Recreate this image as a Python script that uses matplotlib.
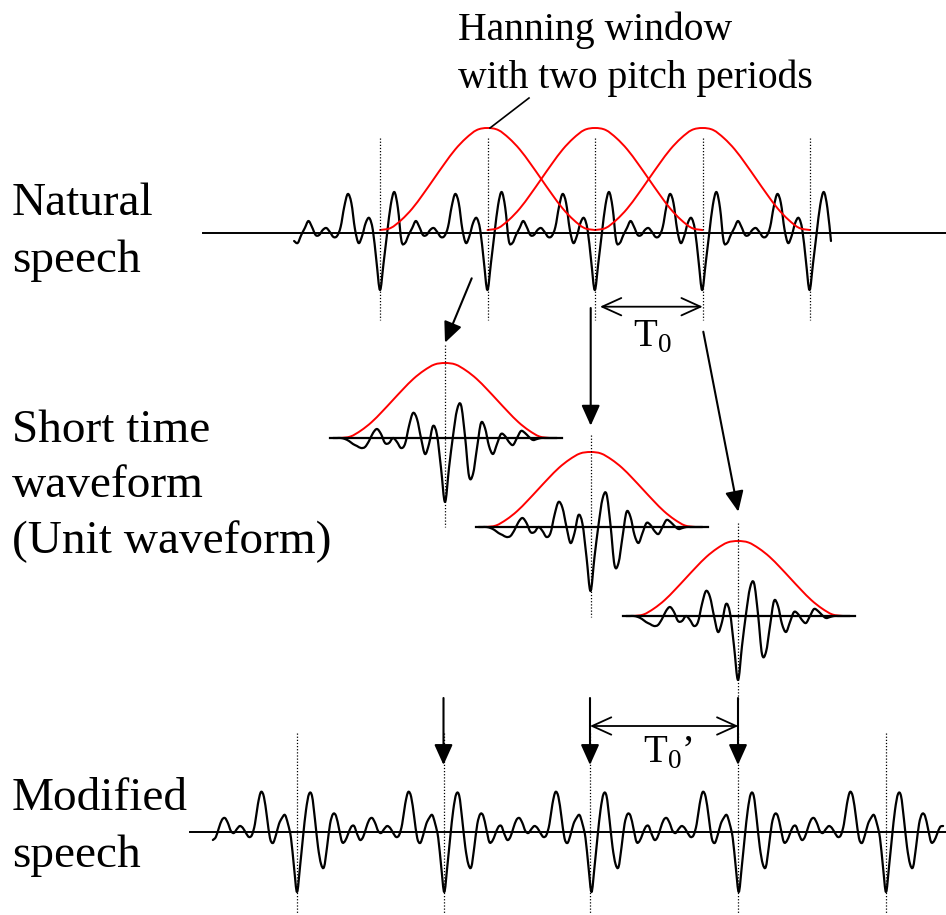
import numpy as np
import matplotlib.pyplot as plt
from matplotlib.path import Path
from matplotlib.patches import PathPatch

plt.rcParams['font.family'] = 'Liberation Serif'
plt.rcParams['mathtext.fontset'] = 'custom'
plt.rcParams['mathtext.rm'] = 'Liberation Serif'

# one pitch period of the natural speech, starting at a pitch mark (up = positive)
natural_period = [-57, -30, 0, 28, 41, 25, -8, -10, -2, 5,
                  12, 6, -2, -2, 3, 5, 1, -4, -3, 6,
                  26, 39, 30, 4, -10, -3, 10, 15, 3, -28]
natural_marks = [380, 487.5, 595, 702.5, 809.5]
natural_span = (293, 832)
natural_base = 233

# one pitch period of the modified speech
modified_period = [-60, -35, -5, 22, 38, 36, 12, -15, -32, -35,
                   -15, 8, 18, 16, 3, -10, -9, -2, 5, 6,
                   -2, -8, -5, 4, 12, 14, 9, 1, -1, 3,
                   6, 4, -1, -5, -3, 8, 28, 40, 35, 15,
                   -6, -11, -3, 8, 14, 17, 8, -6, -35]
modified_marks = [297, 443.5, 590, 738, 886]
modified_span = (210, 946)
modified_base = 832

# windowed unit waveform, centred on its pitch mark
unit_wave = [0, 0, 0, -1, -3, -6, -8, -10, -9, -3,
             5, 9, 4, -5, -5, 0, -4, -10, -6, 12,
             25, 19, 0, -16, -6, 12, 3, -30, -64, -30,
             2, 28, 33, 2, -38, -36, -10, 15, 10, -8,
             -16, -6, 4, 2, -4, -7, 0, 7, 5, 1,
             -2, -1, 0, 0, 0, 0, 0]
unit_step = 4
unit_centers = [445, 590.5, 738]
unit_bases = [438, 527, 616]
unit_dots = [(345, 527), (435, 617), (523, 700)]

# Hanning window shape (21 points over two pitch periods)
hann = [0, 0.02, 0.1, 0.21, 0.35, 0.5, 0.65, 0.79, 0.9, 0.98, 1,
        0.98, 0.9, 0.79, 0.65, 0.5, 0.35, 0.21, 0.1, 0.02, 0]


def periodic(period_vals, marks, span):
    T = (marks[-1] - marks[0]) / (len(marks) - 1)
    n = len(period_vals)
    step = T / n
    i0 = int(np.floor((span[0] - marks[0]) / step))
    i1 = int(np.ceil((span[1] - marks[0]) / step))
    idx = np.arange(i0, i1 + 1)
    x = marks[0] + idx * step
    y = np.array(period_vals)[idx % n]
    keep = (x >= span[0]) & (x <= span[1])
    return x[keep], y[keep]


def smooth_line(ax, x, y, color='k', lw=1.6):
    # draw a curve through the samples (Catmull-Rom as cubic Bezier segments)
    p = np.column_stack([x, y]).astype(float)
    pp = np.vstack([p[0], p, p[-1]])
    verts = [p[0]]
    codes = [Path.MOVETO]
    for i in range(1, len(pp) - 2):
        c1 = pp[i] + (pp[i + 1] - pp[i - 1]) / 6
        c2 = pp[i + 1] - (pp[i + 2] - pp[i]) / 6
        verts += [c1, c2, pp[i + 1]]
        codes += [Path.CURVE4] * 3
    ax.add_patch(PathPatch(Path(verts, codes), fill=False, edgecolor=color,
                           lw=lw, joinstyle='round', capstyle='round'))


def arrow(ax, tail, tip, style='-|>,head_length=1,head_width=0.45', ms=12.5, lw=1.5):
    ax.annotate('', xy=tip, xytext=tail,
                arrowprops=dict(arrowstyle=style, mutation_scale=ms, lw=lw,
                                color='k', shrinkA=0, shrinkB=0))


fig = plt.figure(figsize=(9.46, 9.15), dpi=100)
ax = fig.add_axes([0, 0, 1, 1])
ax.set_xlim(0, 946)
ax.set_ylim(915, 0)
ax.axis('off')

dots = (0, (1, 1.5))
red = '#ff0000'

# ---- natural speech
ax.plot([203, 946], [natural_base, natural_base], color='k', lw=1.4)
x, y = periodic(natural_period, natural_marks, natural_span)
smooth_line(ax, x, natural_base - y)
ax.vlines(natural_marks, 138, 320, colors='k', lw=0.9, linestyles=dots)
T_nat = natural_marks[1] - natural_marks[0]
for c in natural_marks[1:4]:
    wx = np.linspace(c - T_nat, c + T_nat, len(hann))
    smooth_line(ax, wx, 230 - 102 * np.array(hann), color=red, lw=1.4)

# ---- unit waveforms
for c, b, (d0, d1) in zip(unit_centers, unit_bases, unit_dots):
    ax.plot([c - 115, c + 117], [b, b], color='k', lw=1.6)
    ux = c + unit_step * (np.arange(len(unit_wave)) - (len(unit_wave) - 1) / 2)
    smooth_line(ax, ux, b - np.array(unit_wave))
    wx = np.linspace(c - 105, c + 105, len(hann))
    smooth_line(ax, wx, b - 75 * np.array(hann), color=red, lw=1.4)
    ax.vlines(c, d0, d1, colors='k', lw=0.9, linestyles=dots)

# ---- modified speech
ax.plot([190, 946], [modified_base, modified_base], color='k', lw=1.4)
x, y = periodic(modified_period, modified_marks, modified_span)
smooth_line(ax, x, modified_base - y)
ax.vlines(modified_marks, 733, 913, colors='k', lw=0.9, linestyles=dots)

# ---- arrows
arrow(ax, (471.7, 278.3), (445, 342.7))
arrow(ax, (590.7, 308), (590.7, 425.7))
arrow(ax, (703.3, 331.7), (738.3, 511.7))
for mx in modified_marks[1:4]:
    arrow(ax, (mx, 698), (mx, 765))
arrow(ax, (600, 306.7), (702.7, 306.7), style='<->,head_length=1.1,head_width=0.5', ms=12.5, lw=1.3)
arrow(ax, (590, 726), (738.3, 726), style='<->,head_length=1.1,head_width=0.5', ms=12.5, lw=1.3)

# ---- text
ax.plot([490, 529], [128, 98], color='k', lw=1.2)
ax.text(458, 40, 'Hanning window', fontsize=28.5, va='baseline')
ax.text(458, 88, 'with two pitch periods', fontsize=28.5, va='baseline')

ax.text(633, 346.7, r'$\mathrm{T}_0$', fontsize=28, va='baseline')
ax.text(643, 762.7, r'$\mathrm{T}_0$’', fontsize=28, va='baseline')

labels = [('Natural', 215), ('speech', 272),
          ('Short time', 442), ('waveform', 497), ('(Unit waveform)', 553),
          ('Modified', 810), ('speech', 867)]
for s, yb in labels:
    ax.text(12, yb, s, fontsize=34, va='baseline')

fig.savefig('out.png', dpi=100)
